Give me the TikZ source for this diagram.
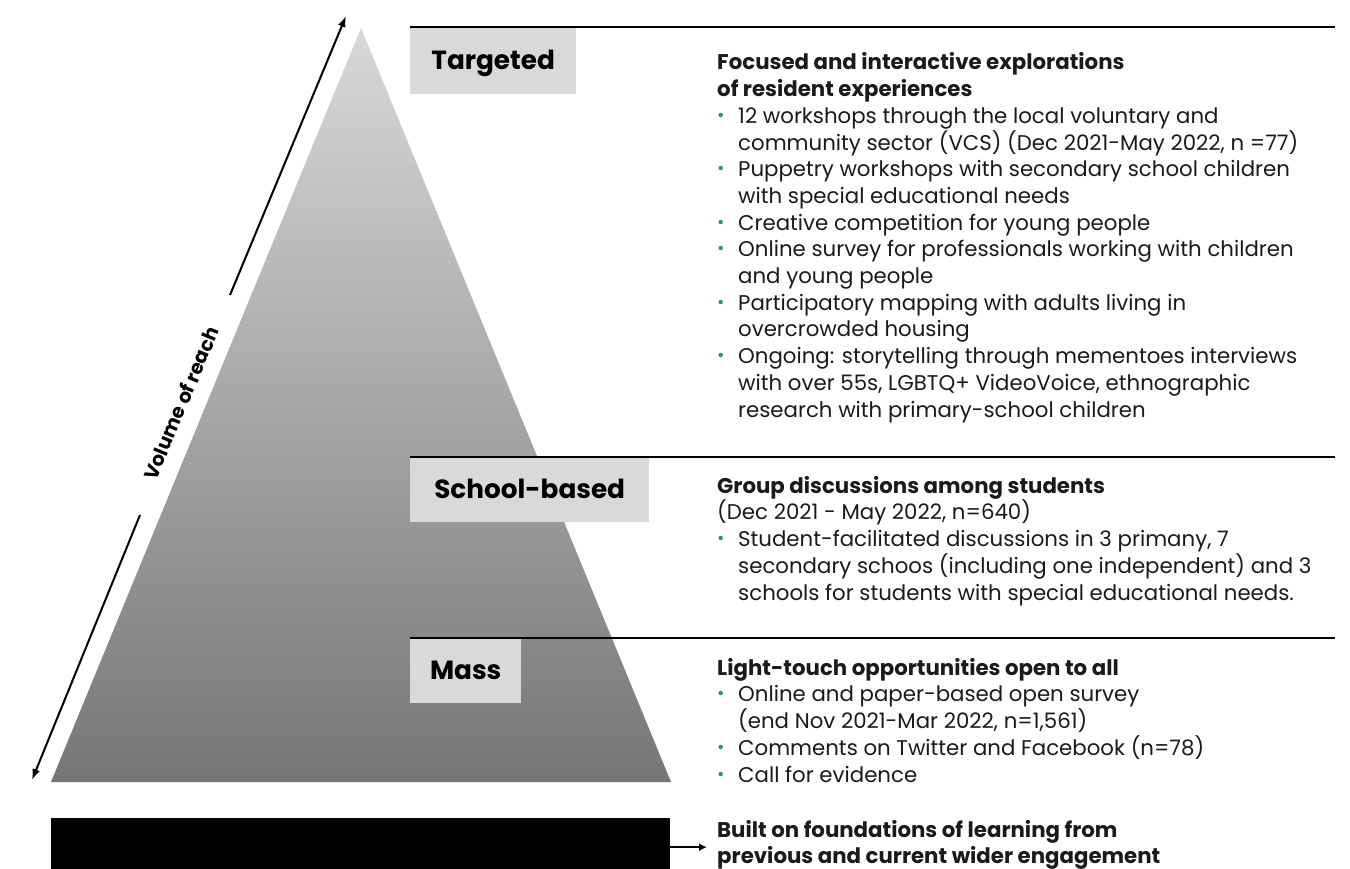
\documentclass[tikz,border=0pt]{standalone}
\usepackage{fontspec}
\setmainfont{Poppins}
\usetikzlibrary{arrows.meta}

\definecolor{boxgrey}{HTML}{D9D9D9}
\definecolor{topgrey}{HTML}{D8D8D8}
\definecolor{botgrey}{HTML}{767676}
\definecolor{bulgreen}{HTML}{2E9A4C}
\definecolor{inkblack}{HTML}{1A1A1A}

\newcommand{\bul}{\makebox[21pt][l]{\textcolor{bulgreen}{\raisebox{2pt}{\fontsize{18}{18}\selectfont\textbullet}}}}
\newcommand{\ind}{\hspace*{21pt}}

\tikzset{
  lvlbox/.style={fill=boxgrey, anchor=north west, minimum height=65pt,
    text height=18.5pt, text depth=0pt, font=\fontsize{26.3}{30}\selectfont\bfseries},
  txtblock/.style={anchor=base west, align=left, text=inkblack,
    font=\fontsize{21.3}{26.7}\selectfont},
  rule/.style={line width=2pt},
  reach/.style={line width=2pt, -{Latex[length=11pt,width=8pt]}}
}

\begin{document}
\begin{tikzpicture}[x=1pt,y=-1pt, every node/.style={inner sep=0pt}]
\useasboundingbox (0,0) rectangle (1350,869);
\clip (0,0) rectangle (1350,869);

% pyramid
\shade[top color=topgrey, bottom color=botgrey] (361,28) -- (671,782) -- (51,782) -- cycle;

% volume of reach
\coordinate (up1) at (230,295);
\coordinate (up2) at (346,16);
\coordinate (dn1) at (140,515);
\coordinate (dn2) at (32,780);
\draw[reach] (up1) -- (up2);
\draw[reach] (dn1) -- (dn2);
\node[rotate=67.4, font=\fontsize{19.5}{24}\selectfont\bfseries] (vol) at (181,403) {Volume of reach};

% levels
\node[lvlbox, minimum width=166pt, minimum height=67pt] (tgt) at (410,27) {Targeted};
\node[lvlbox, minimum width=239pt] (sch) at (410,457) {School-based};
\node[lvlbox, minimum width=111pt] (mas) at (410,638) {Mass};

\draw[rule] (tgt.north west) -- (tgt.north west -| 1335,0);
\draw[rule] (sch.north west) -- (sch.north west -| 1335,0);
\draw[rule] (mas.north west) -- (mas.north west -| 1335,0);

% texts (placed at the baseline of their last line)
\node[txtblock] (tgttxt) at (717,417) {\textbf{Focused and interactive explorations}\\
  \textbf{of resident experiences}\\
  \bul 12 workshops through the local voluntary and\\
  \ind community sector (VCS) (Dec 2021-May 2022, n =77)\\
  \bul Puppetry workshops with secondary school children\\
  \ind with special educational needs\\
  \bul Creative competition for young people\\
  \bul Online survey for professionals working with children\\
  \ind and young people\\
  \bul Participatory mapping with adults living in\\
  \ind overcrowded housing\\
  \bul Ongoing: storytelling through mementoes interviews\\
  \ind with over 55s, LGBTQ+ VideoVoice, ethnographic\\
  \ind research with primary-school children};

\node[txtblock] (schtxt) at (717,600) {\textbf{Group discussions among students}\\
  (Dec 2021 - May 2022, n=640)\\
  \bul Student-facilitated discussions in 3 primany, 7\\
  \ind secondary schoos (including one independent) and 3\\
  \ind schools for students with special educational needs.};

\node[txtblock] (mastxt) at (717,782) {\textbf{Light-touch opportunities open to all}\\
  \bul Online and paper-based open survey\\
  \ind (end Nov 2021-Mar 2022, n=1,561)\\
  \bul Comments on Twitter and Facebook (n=78)\\
  \bul Call for evidence};

% foundations
\node[fill=black, anchor=north west, minimum width=619pt, minimum height=58pt] (found) at (51,818) {};
\node[txtblock, font=\fontsize{21.3}{25.5}\selectfont\bfseries] (foundtxt) at (717,863) {Built on foundations of learning from\\
  previous and current wider engagement};
\draw[line width=2pt, -{Latex[length=8pt,width=8pt]}, shorten >=10pt] (found.east) -- (found.east -| foundtxt.west);

\end{tikzpicture}
\end{document}
